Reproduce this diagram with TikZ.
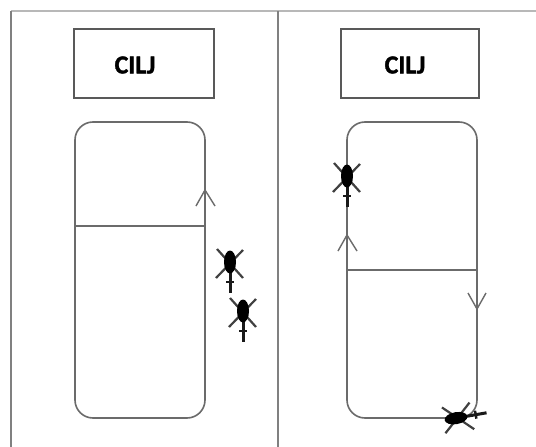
\documentclass[tikz,border=0pt]{standalone}
\usepackage{fontspec}
\setmainfont[BoldFeatures={FakeBold=1.5}]{Carlito}
\tikzset{
  x=1pt,y=-1pt,
  line/.style={draw=black!58,line width=1.4pt},
  frameline/.style={draw=black!50,line width=1.5pt},
  goalbox/.style={draw=black!65,line width=1.6pt,minimum width=#1,minimum height=69pt,inner sep=0pt},
  goaltext/.style={font=\bfseries\fontsize{26}{26}\selectfont,text=black},
  track/.style={draw=black!58,line width=1.6pt,rounded corners=18pt,minimum width=130pt,minimum height=296pt,inner sep=0pt},
  rotor/.style={draw=black!75,line width=2.2pt},
  heli/.pic={
    \draw[rotor] (-13,-14) -- (13,15);
    \draw[rotor] (13,-13) -- (-14,15);
    \draw[black!90,line width=3pt] (0,8) -- (0,30);
    \draw[black!90,line width=2.4pt] (-4,19) -- (4,19);
    \fill[black] (0,-1) ellipse (6pt and 11.5pt);
  }
}
\begin{document}
\begin{tikzpicture}
\useasboundingbox (0,0) rectangle (536,447);
\fill[white] (0,0) rectangle (536,447);
\coordinate (tl) at (11,11);
\coordinate (tr) at (536,11);
\coordinate (bl) at (11,447);
\coordinate (mt) at (278,11);
\coordinate (mb) at (278,447);
\draw[frameline,draw=black!28,line width=2pt] (tl) -- (tr);
\draw[frameline] (tl) -- (bl);
\draw[frameline] (mt) -- (mb);

\node[goalbox=140pt] (boxL) at (144,63.5) {};
\node[goalbox=138pt] (boxR) at (410,63.5) {};
\node[goaltext] (txtL) at (135,65) {CILJ};
\node[goaltext] (txtR) at (405,65) {CILJ};

\node[track] (trL) at (140,270) {};
\node[track] (trR) at (412,270) {};

\coordinate (dLa) at (75,226);
\coordinate (dLb) at (205,226);
\coordinate (dRa) at (347,270);
\coordinate (dRb) at (477,270);
\draw[line] (dLa) -- (dLb);
\draw[line] (dRa) -- (dRb);

\coordinate (a1) at (205,190);
\coordinate (a1l) at (196,206);
\coordinate (a1r) at (215,206);
\draw[line] (a1l) -- (a1) -- (a1r);
\coordinate (a2) at (347,235);
\coordinate (a2l) at (338,251);
\coordinate (a2r) at (357,251);
\draw[line] (a2l) -- (a2) -- (a2r);
\coordinate (a3) at (477,309);
\coordinate (a3l) at (468,293);
\coordinate (a3r) at (486,293);
\draw[line] (a3l) -- (a3) -- (a3r);

\pic at (230,263) {heli};
\pic at (243,312) {heli};
\pic at (347,177) {heli};
\pic[rotate=100] at (457,418) {heli};
\end{tikzpicture}
\end{document}
